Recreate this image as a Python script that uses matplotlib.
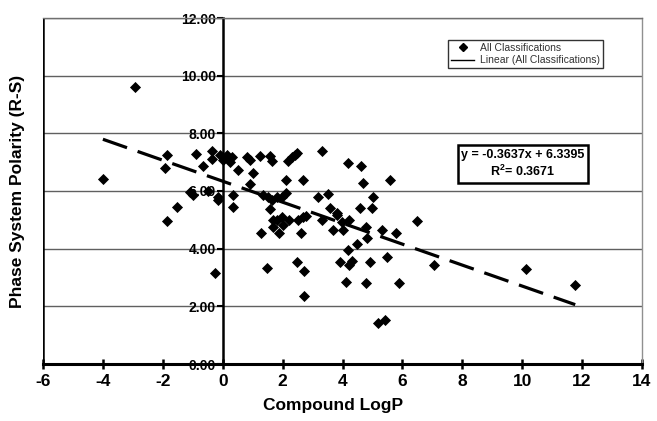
import numpy as np
import matplotlib
matplotlib.use("Agg")
import matplotlib.pyplot as plt
from matplotlib.lines import Line2D

plt.rcParams['font.family'] = ['Liberation Sans', 'DejaVu Sans']
plt.rcParams['mathtext.fontset'] = 'custom'
plt.rcParams['mathtext.rm'] = 'Liberation Sans:bold'
plt.rcParams['mathtext.bf'] = 'Liberation Sans:bold'

logp = [-4.0, -2.93, -1.87, -1.93, -0.9, -0.67, -0.37, -0.37, -1.1, -1.0,
        -0.5, -0.17, -1.53, -1.87, -0.27, -0.1, 0.0, 0.13, 0.3, 0.23,
        0.5, 0.8, 0.9, 1.0, 0.9, 1.23, 1.57, 1.63, 2.17, 2.33,
        2.47, 3.3, 2.13, 2.67, 0.33, 0.33, 1.33, 1.5, 1.63, 1.8,
        1.97, 2.13, 1.57, 3.17, 3.5, 4.2, 4.63, 4.67, 5.57, 5.03,
        5.0, 4.6, 3.57, 3.83, 1.27, 1.47, 1.87, 1.67, 1.97, 2.0,
        2.23, 2.5, 2.77, 2.63, 2.47, 2.73, 2.73, 3.3, 2.67, 3.97,
        4.23, 3.67, 4.0, 4.8, 4.83, 5.33, 5.77, 4.47, 4.2, 3.93,
        4.23, 4.33, 4.93, 5.47, 4.13, 4.77, 5.87, 5.17, 5.43, 6.5,
        7.07, 10.13, 11.77, 1.67, 3.8, -0.17, 2.4, 1.8]
polarity = [6.42, 9.61, 7.25, 6.80, 7.28, 6.85, 7.40, 7.10, 5.97, 5.86,
            6.00, 5.80, 5.45, 4.96, 3.14, 7.25, 7.07, 7.25, 7.18, 7.00,
            6.73, 7.18, 7.07, 6.62, 6.24, 7.21, 7.21, 7.04, 7.04, 7.18,
            7.32, 7.40, 6.38, 6.38, 5.86, 5.45, 5.86, 5.80, 5.69, 5.80,
            5.80, 5.94, 5.38, 5.80, 5.88, 6.97, 6.85, 6.28, 6.38, 5.80,
            5.41, 5.41, 5.41, 5.23, 4.54, 3.33, 4.54, 4.99, 5.10, 4.82,
            4.99, 4.99, 5.13, 4.54, 3.54, 3.23, 2.36, 4.99, 5.10, 4.93,
            4.99, 4.65, 4.65, 4.75, 4.37, 4.65, 4.54, 4.16, 3.97, 3.54,
            3.43, 3.57, 3.54, 3.71, 2.84, 2.81, 2.81, 1.42, 1.53, 4.96,
            3.43, 3.30, 2.74, 4.75, 5.17, 5.70, 7.25, 4.99]

slope = -0.3637
intercept = 6.3395
r_squared = 0.3671

x_ticks = [-6, -4, -2, 0, 2, 4, 6, 8, 10, 12, 14]
y_ticks = [0, 2, 4, 6, 8, 10, 12]

W, H = 657, 421
fig = plt.figure(figsize=(W/100, H/100), dpi=100)
ax = fig.add_axes([43/W, 1-364/H, (642-43)/W, (364-18)/H])
ax.set_xlim(-6, 14)
ax.set_ylim(0, 12)

# gridlines
for yv in y_ticks[1:]:
    ax.axhline(yv, color='#606060', lw=1.0, zorder=1)

# spines
ax.spines['left'].set_position(('data', 0))
ax.spines['left'].set_linewidth(1.8)
ax.spines['left'].set_color('black')
ax.spines['bottom'].set_linewidth(2.2)
ax.spines['bottom'].set_color('black')
ax.spines['right'].set_color('#909090')
ax.spines['right'].set_linewidth(1.0)
ax.spines['top'].set_color('#707070')
ax.spines['top'].set_linewidth(1.0)
ax.axvline(-6, color='black', lw=1.8, zorder=2)

ax.set_xticks(x_ticks)
ax.set_xticklabels([str(t) for t in x_ticks], fontsize=12.5, fontweight='bold')
ax.set_yticks(y_ticks)
ax.set_yticklabels([f"{t:.2f}" for t in y_ticks], fontsize=10, fontweight='bold')
ax.tick_params(axis='x', direction='inout', length=7, width=1.8, pad=4)
ax.tick_params(axis='y', direction='out', length=4, width=1.5, pad=1)

ax.scatter(logp, polarity, marker='D', s=32, color='black', zorder=4, linewidths=0)

xs = np.array([min(logp), max(logp)])
ax.plot(xs, slope*xs + intercept, color='black', lw=2.3, dashes=(8, 3.5), zorder=3)

fig.text(333/W, 1-410/H, 'Compound LogP', ha='center', va='baseline',
         fontsize=12.5, fontweight='bold')
fig.text(18/W, 1-191/H, 'Phase System Polarity (R-S)', ha='center', va='center',
         rotation=90, fontsize=12.5, fontweight='bold')

handles = [Line2D([], [], marker='D', color='black', ls='none', markersize=4),
           Line2D([], [], color='black', lw=1.0)]
leg = ax.legend(handles, ['All Classifications', 'Linear (All Classifications)'],
                loc='upper left', bbox_to_anchor=((448-43)/599, 1-(40-18)/346),
                fontsize=7.5, frameon=True, fancybox=False, borderpad=0.3,
                handlelength=2.2, handletextpad=0.6, labelspacing=0.2,
                borderaxespad=0)
leg.get_frame().set_edgecolor('black')
leg.get_frame().set_linewidth(1.0)
for t in leg.get_texts():
    t.set_color('#333333')

fig.text(523/W, 1-164/H, f"y = {slope:.4f}x + {intercept:.4f}\n$\\mathrm{{R}}^{{2}}$= {r_squared:.4f}",
         ha='center', va='center', fontsize=9, fontweight='bold',
         linespacing=1.25, zorder=10,
         bbox=dict(boxstyle='square,pad=0.3', fc='white', ec='black', lw=1.8))

fig.savefig('out.png', dpi=100)
